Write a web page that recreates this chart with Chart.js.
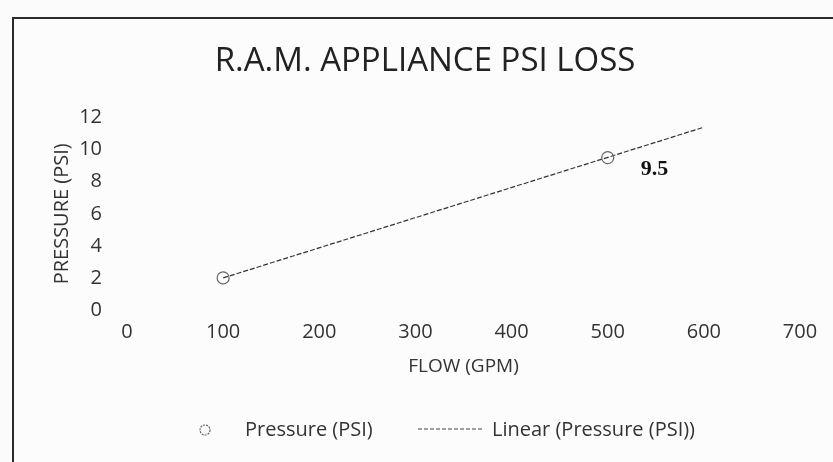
<!DOCTYPE html>
<html>
<head>
<meta charset="utf-8">
<script src="https://cdn.jsdelivr.net/npm/chart.js@4/dist/chart.umd.min.js"></script>
<style>
  body { margin: 0; background: #fbfbfb; overflow: hidden; }
  #box {
    position: absolute; left: 12px; top: 17px;
    width: 830px; height: 445px;
    border: 2px solid #2a2a2a; background: #fcfcfc;
  }
  canvas { display: block; }
</style>
</head>
<body>
<div id="box"><canvas id="psiChart" width="830" height="445"></canvas></div>
<script>
// measured flow / pressure
const flowGpm = [100, 500];
const pressurePsi = [2, 9.5];
// trendline ends as drawn
const trendFlow = [100, 600];
const trendPsi = [2, 11.4];
const xTicks = [0, 100, 200, 300, 400, 500, 600, 700];
const yTicks = [0, 2, 4, 6, 8, 10, 12];
const seriesNames = ['Pressure (PSI)', 'Linear (Pressure (PSI))'];

const textColor = '#333';
const font = "'Open Sans', 'Noto Sans', sans-serif";

// "9.5" label next to the second point
const pointLabel = {
    id: 'pointLabel',
    afterDatasetsDraw(chart) {
        const pt = chart.getDatasetMeta(0).data[1];
        const c = chart.ctx;
        c.save();
        c.font = "bold 22px 'Liberation Serif', serif";
        c.fillStyle = '#111';
        c.textAlign = 'left';
        c.textBaseline = 'middle';
        c.fillText(String(pressurePsi[1]), pt.x + 33, pt.y + 12);
        c.restore();
    }
};

// Excel-style legend: small circle, long dashed line
const bottomLegend = {
    id: 'bottomLegend',
    afterDraw(chart) {
        const c = chart.ctx;
        const y = 411;
        c.save();
        c.strokeStyle = '#666';
        c.lineWidth = 1.2;
        c.setLineDash([2, 1]);
        c.beginPath();
        c.arc(191, y, 5, 0, Math.PI * 2);
        c.stroke();
        c.strokeStyle = '#444';
        c.setLineDash([4, 2]);
        c.beginPath();
        c.moveTo(404, y - 1);
        c.lineTo(468, y - 1);
        c.stroke();
        c.setLineDash([]);
        c.font = '20px ' + font;
        c.fillStyle = textColor;
        c.textBaseline = 'middle';
        c.fillText(seriesNames[0], 231, y);
        c.fillText(seriesNames[1], 478, y);
        c.restore();
    }
};

const ctx = document.getElementById('psiChart').getContext('2d');
new Chart(ctx, {
    type: 'scatter',
    data: {
        datasets: [
            {
                label: seriesNames[0],
                data: flowGpm.map((x, i) => ({ x: x, y: pressurePsi[i] })),
                pointStyle: 'circle',
                pointRadius: 6,
                pointBorderWidth: 1.2,
                borderColor: '#666',
                backgroundColor: 'rgba(0,0,0,0)',
                showLine: false
            },
            {
                label: seriesNames[1],
                data: trendFlow.map((x, i) => ({ x: x, y: trendPsi[i] })),
                showLine: true,
                pointRadius: 0,
                borderColor: '#333',
                borderWidth: 1.2,
                borderDash: [5, 2]
            }
        ]
    },
    options: {
        responsive: false,
        animation: false,
        layout: { padding: { left: 36, right: 44, top: 0, bottom: 74 } },
        plugins: {
            title: {
                display: true,
                text: 'R.A.M. APPLIANCE PSI LOSS',
                color: '#222',
                font: { family: font, size: 33, weight: 'normal', lineHeight: 1.2 },
                padding: { top: 23, bottom: 36 }
            },
            legend: { display: false },
            tooltip: { enabled: false }
        },
        scales: {
            x: {
                type: 'linear',
                min: 0,
                max: 700,
                afterBuildTicks: (axis) => { axis.ticks = xTicks.map(v => ({ value: v })); },
                afterFit: (axis) => { axis.height = 80; },
                grid: { display: false },
                border: { display: false },
                ticks: { color: textColor, font: { family: font, size: 20 }, padding: 2, maxRotation: 0 },
                title: { display: true, text: 'FLOW (GPM)', color: textColor, font: { family: font, size: 19, lineHeight: 1.2 }, padding: { top: 0, bottom: 12 } }
            },
            y: {
                min: 0,
                max: 12,
                afterBuildTicks: (axis) => { axis.ticks = yTicks.map(v => ({ value: v })); },
                afterFit: (axis) => { axis.width = 77; },
                grid: { display: false },
                border: { display: false },
                ticks: { color: textColor, font: { family: font, size: 20 }, padding: 17 },
                title: { display: true, text: 'PRESSURE (PSI)', color: textColor, font: { family: font, size: 20, lineHeight: 1.2 }, padding: { top: 0, bottom: 0 } }
            }
        }
    },
    plugins: [pointLabel, bottomLegend]
});
</script>
</body>
</html>
